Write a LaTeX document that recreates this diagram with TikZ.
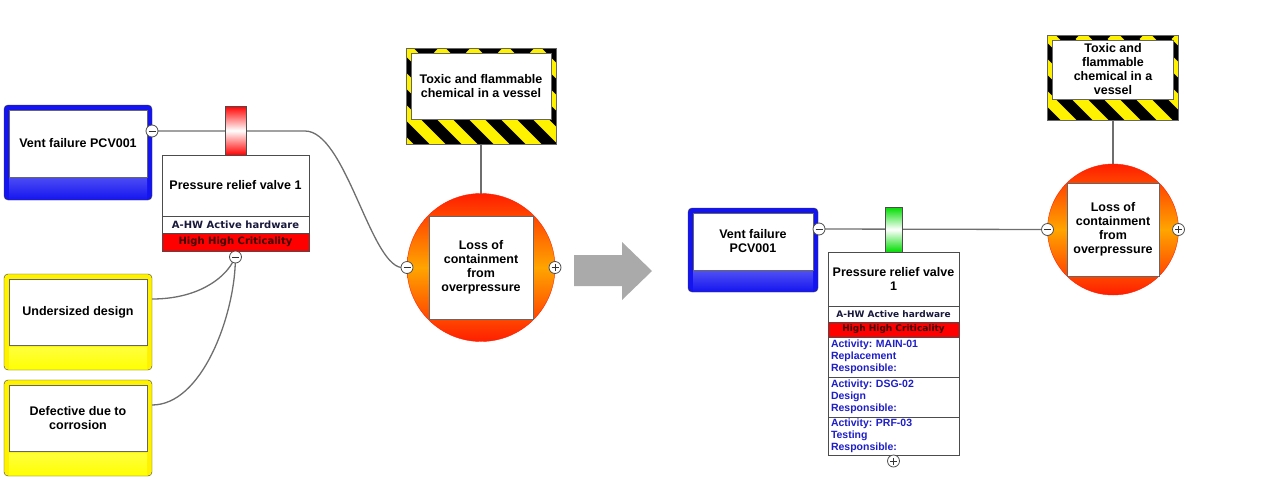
\documentclass[tikz,border=0pt]{standalone}
\usepackage{fontspec}
\setmainfont{Liberation Sans}
\newfontfamily\verd{DejaVu Sans}
\usetikzlibrary{positioning, backgrounds}
\hyphenpenalty=10000
\frenchspacing
\definecolor{ventblue}{RGB}{20,20,240}
\definecolor{tered}{RGB}{255,30,0}
\definecolor{teorange}{RGB}{255,165,0}
\definecolor{actblue}{RGB}{30,30,200}
\definecolor{hwnavy}{RGB}{25,25,60}
\definecolor{critdark}{RGB}{60,0,0}
\definecolor{tabgreen}{RGB}{0,220,0}
\definecolor{linkgray}{RGB}{110,110,110}
\definecolor{arrowgray}{RGB}{170,170,170}
\tikzset{
  lbl/.style={font=\bfseries\fontsize{12.5}{14}\selectfont, align=flush center},
  causebox/.style={draw=black!75, rounded corners=4pt, fill=#1, inner sep=0pt, outer sep=0pt,
    path picture={\shade[sharp corners, top color=white, bottom color=#1] ([xshift=5pt,yshift=23pt]path picture bounding box.south west) rectangle ([xshift=-5pt,yshift=1pt]path picture bounding box.south east);}},
  causetext/.style={lbl, draw=black!60, fill=white, inner sep=0pt, outer sep=0pt},
  hazard/.style={draw=black!60, fill=black, inner sep=0pt, outer sep=0pt,
    path picture={\foreach \k in {-4,...,6} \draw[yellow, line width=11pt] ([xshift=\k*32pt]path picture bounding box.north west) -- ++(130pt,-130pt);}},
  bartitle/.style={lbl, draw=black!70, fill=white, inner sep=0pt, outer sep=0pt},
  barrow/.style={draw=black!70, fill=#1, inner sep=0pt, outer sep=0pt, font=\verd\bfseries\fontsize{10}{12}\selectfont},
  tab/.style={draw=black!70, top color=#1, bottom color=#1, middle color=white, inner sep=0pt, outer sep=0pt},
  actrow/.style={draw=black!70, fill=white, text=actblue, font=\bfseries\fontsize{10.5}{12}\selectfont, align=left, inner xsep=3pt, inner ysep=0pt, outer sep=0pt, text width=125pt},
  topevent/.style={circle, draw=tered, top color=tered, bottom color=tered, middle color=teorange, inner sep=0pt, outer sep=0pt},
  knob/.style={circle, draw=black!70, line width=0.8pt, fill=white, minimum size=12pt, inner sep=0pt, outer sep=0pt},
  knobminus/.style={knob, path picture={\draw[black!80, line width=0.9pt] ([xshift=-3.5pt]path picture bounding box.center) -- ++(7pt,0pt);}},
  knobplus/.style={knob, path picture={\draw[black!80, line width=0.9pt] ([xshift=-3.5pt]path picture bounding box.center) -- ++(7pt,0pt) ([yshift=-3.5pt]path picture bounding box.center) -- ++(0pt,7pt);}},
  link/.style={draw=linkgray, line width=1.3pt}
}
\begin{document}
\begin{tikzpicture}[x=1pt, y=-1pt]
\useasboundingbox (0,0) rectangle (1280,480);

% before
\node[causebox=ventblue, minimum width=148pt, minimum height=95pt] (vfo) at (78,152.5) {};
\node[causetext, minimum width=138pt, minimum height=67pt, text width=128pt, below=5pt of vfo.north] (vf) {Vent failure PCV001};
\node[knobminus] (vfm) at (152,131) {};
\node[causebox=yellow, minimum width=148pt, minimum height=96pt] (udo) at (78,322) {};
\node[causetext, minimum width=138pt, minimum height=66pt, text width=128pt, below=5pt of udo.north] (ud) {Undersized design};
\node[causebox=yellow, minimum width=148pt, minimum height=96pt] (dco) at (78,428) {};
\node[causetext, minimum width=138pt, minimum height=66pt, text width=128pt, below=5pt of dco.north] (dc) {Defective due to corrosion};

\node[bartitle, minimum width=147pt, minimum height=61pt, text width=141pt] (prv) at (235.5,185.5) {Pressure relief valve 1};
\node[barrow=white, text=hwnavy, minimum width=147pt, minimum height=17pt, below=0pt of prv] (prvhw) {A-HW Active hardware};
\node[barrow=red, text=critdark, minimum width=147pt, minimum height=18pt, below=0pt of prvhw] (prvcrit) {High High Criticality};
\node[tab=red, minimum width=21pt, minimum height=49pt, above=0pt of prv] (prvtab) {};
\node[knobminus, below=0pt of prvcrit] (prvm) {};

\node[hazard, minimum width=150pt, minimum height=96pt] (hzo) at (481,96.5) {};
\node[causetext, minimum width=140pt, minimum height=66pt, text width=134pt, below=5pt of hzo.north] (hz) {Toxic and flammable chemical in a vessel};
\node[topevent, minimum size=148pt] (te) at (481,267.5) {};
\node[causetext, minimum width=104pt, minimum height=103pt, text width=98pt] (tet) at (te) {Loss of containment from overpressure};
\node[knobminus] (tem) at (te.west) {};
\node[knobplus] (tep) at (te.east) {};

\begin{scope}[on background layer]
\draw[link] (vfm.east) -- ++(147,0) .. controls +(40,0) and +(-31,-5) .. (tem.west);
\draw[link] ([yshift=23pt]udo.east) .. controls +(45,0) and +(-12,22) .. (prvm);
\draw[link] ([yshift=23pt]dco.east) .. controls +(50,0) and +(-2,60) .. (prvm);
\draw[link] (hzo.south) -- (te.north);
\end{scope}

\fill[arrowgray] (574,255) -- (622,255) -- (622,242) -- (652,271) -- (622,300) -- (622,286) -- (574,286) -- cycle;

% after
\node[causebox=ventblue, minimum width=130pt, minimum height=84pt] (vfo2) at (753,250) {};
\node[causetext, minimum width=120pt, minimum height=57pt, text width=110pt, below=5pt of vfo2.north] (vf2) {Vent failure PCV001};
\node[knobminus] (vfm2) at (819,229) {};

\node[bartitle, minimum width=131pt, minimum height=54pt, text width=126pt] (prv2) at (893.5,279) {Pressure relief valve 1};
\node[barrow=white, text=hwnavy, minimum width=131pt, minimum height=16pt, below=0pt of prv2, font=\verd\bfseries\fontsize{9}{11}\selectfont] (prvhw2) {A-HW Active hardware};
\node[barrow=red, text=critdark, minimum width=131pt, minimum height=15pt, below=0pt of prvhw2, font=\verd\bfseries\fontsize{9}{11}\selectfont] (prvcrit2) {High High Criticality};
\node[actrow, minimum height=40pt, below=0pt of prvcrit2] (act1) {Activity: MAIN-01\\Replacement\\Responsible:};
\node[actrow, minimum height=40pt, below=0pt of act1] (act2) {Activity: DSG-02\\Design\\Responsible:};
\node[actrow, minimum height=38pt, below=0pt of act2] (act3) {Activity: PRF-03\\Testing\\Responsible:};
\node[tab=tabgreen, minimum width=17pt, minimum height=45pt, above=0pt of prv2] (prvtab2) {};
\node[knobplus, below=0pt of act3] (prvp2) {};

\node[hazard, minimum width=131pt, minimum height=85pt] (hzo2) at (1113,77.5) {};
\node[causetext, minimum width=121pt, minimum height=59pt, text width=112pt, below=5pt of hzo2.north] (hz2) {Toxic and flammable chemical in a vessel};
\node[topevent, minimum size=131pt] (te2) at (1113,229.5) {};
\node[causetext, minimum width=92pt, minimum height=93pt, text width=88pt] (tet2) at (te2) {Loss of containment from overpressure};
\node[knobminus] (tem2) at (te2.west) {};
\node[knobplus] (tep2) at (te2.east) {};

\begin{scope}[on background layer]
\draw[link] (vfm2) -- (tem2);
\draw[link] (hzo2.south) -- (te2.north);
\end{scope}
\end{tikzpicture}
\end{document}
